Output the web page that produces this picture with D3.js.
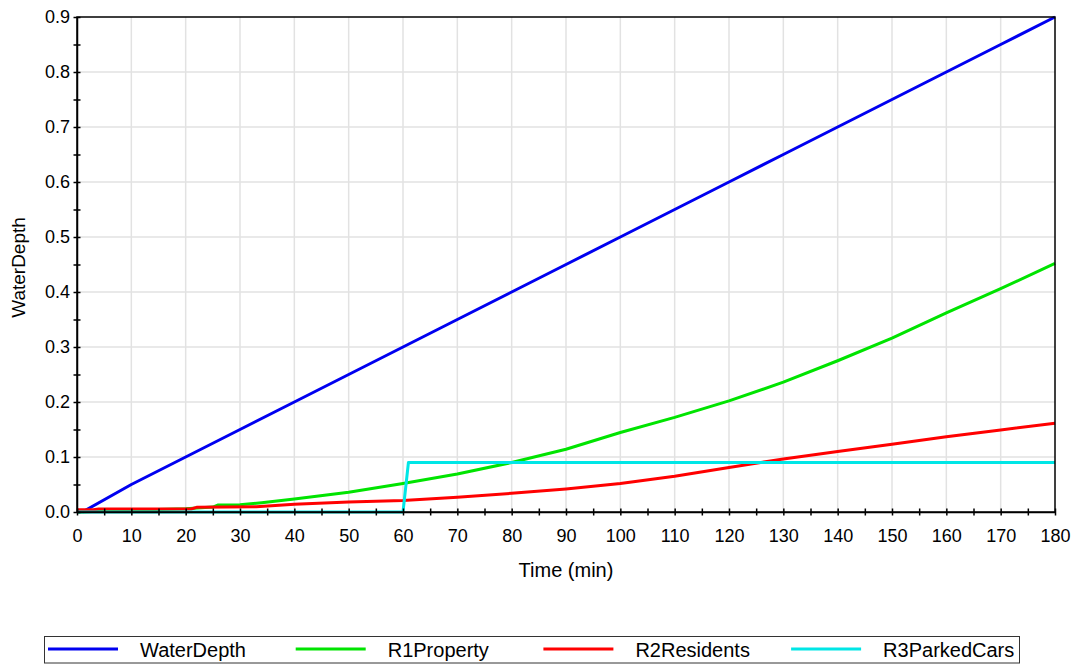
<!DOCTYPE html>
<html>
<head>
<meta charset="utf-8">
<script src="https://cdn.jsdelivr.net/npm/d3@7/dist/d3.min.js"></script>
<style>
  html, body { margin: 0; padding: 0; background: #fff; }
  svg { display: block; font-family: "Liberation Sans", Arial, sans-serif; }
</style>
</head>
<body>
<svg id="chart" width="1080" height="664"></svg>
<script>
// Time axis (minutes) and the depth series sampled along it
const waterDepthTime  = [1, 10, 20, 30, 40, 50, 60, 70, 80, 90, 100, 110, 120, 130, 140, 150, 160, 170, 180];
const waterDepthValue = [0, 0.05, 0.1, 0.15, 0.2, 0.25, 0.3, 0.35, 0.4, 0.45, 0.5, 0.55, 0.6, 0.65, 0.7, 0.75, 0.8, 0.85, 0.9];

const r1PropertyTime  = [0, 10, 20, 25, 26, 30, 34, 40, 50, 60, 70, 80, 90, 100, 110, 120, 130, 140, 150, 160, 170, 180];
const r1PropertyValue = [0, 0.003, 0.006, 0.009, 0.0128, 0.013, 0.017, 0.0237, 0.036, 0.052, 0.069, 0.09, 0.114, 0.1445, 0.172, 0.202, 0.236, 0.275, 0.316, 0.362, 0.406, 0.452];

const r2ResidentsTime  = [0, 3, 4, 21, 22, 33, 40, 50, 60, 70, 80, 90, 100, 110, 120, 130, 140, 150, 160, 170, 180];
const r2ResidentsValue = [0.004, 0.004, 0.0055, 0.0055, 0.0085, 0.0097, 0.014, 0.018, 0.021, 0.027, 0.034, 0.042, 0.052, 0.065, 0.081, 0.0965, 0.11, 0.123, 0.137, 0.149, 0.1615];

const r3ParkedCarsTime  = [0, 60, 61, 180];
const r3ParkedCarsValue = [0, 0, 0.09, 0.09];

const seriesNames  = ["WaterDepth", "R1Property", "R2Residents", "R3ParkedCars"];
const seriesColors = ["#0000f0", "#00e400", "#ff0000", "#00e6e6"];

const xTicks = d3.range(0, 181, 5);
const yTicks = d3.range(0, 0.9001, 0.05).map(v => +v.toFixed(2));

const series = [
  { name: seriesNames[0], t: waterDepthTime,   v: waterDepthValue },
  { name: seriesNames[1], t: r1PropertyTime,   v: r1PropertyValue },
  { name: seriesNames[2], t: r2ResidentsTime,  v: r2ResidentsValue },
  { name: seriesNames[3], t: r3ParkedCarsTime, v: r3ParkedCarsValue }
];

const svg = d3.select("#chart");
const plot = { left: 77, right: 1055, top: 17, bottom: 512 };

const x = d3.scaleLinear().domain([0, 180]).range([plot.left, plot.right]);
const y = d3.scaleLinear().domain([0, 0.9]).range([plot.bottom, plot.top]);

// grid
const grid = svg.append("g").attr("stroke", "#e2e2e2").attr("stroke-width", 1.5);
grid.selectAll("line.gx").data(xTicks.filter(d => d % 10 === 0 && d > 0 && d < 180))
  .join("line").attr("x1", d => x(d)).attr("x2", d => x(d))
  .attr("y1", plot.top).attr("y2", plot.bottom);
grid.selectAll("line.gy").data(yTicks.filter(d => Math.round(d * 100) % 10 === 0 && d > 0 && d < 0.9))
  .join("line").attr("y1", d => y(d)).attr("y2", d => y(d))
  .attr("x1", plot.left).attr("x2", plot.right);

// series lines
const line = d3.line().x(d => x(d[0])).y(d => y(d[1]));
svg.append("g").selectAll("path").data(series).join("path")
  .attr("d", s => line(s.t.map((t, i) => [t, s.v[i]])))
  .attr("fill", "none")
  .attr("stroke", (s, i) => seriesColors[i])
  .attr("stroke-width", 3)
  .attr("stroke-linejoin", "round");

// frame
svg.append("rect")
  .attr("x", plot.left).attr("y", plot.top)
  .attr("width", plot.right - plot.left).attr("height", plot.bottom - plot.top)
  .attr("fill", "none").attr("stroke", "#000").attr("stroke-width", 1.5);

// axes
const xAxis = d3.axisBottom(x).tickValues(xTicks)
  .tickFormat(d => d % 10 === 0 ? d : "")
  .tickSizeInner(3.5).tickSizeOuter(0).tickPadding(14);
const gx = svg.append("g").attr("transform", `translate(0,${plot.bottom})`).call(xAxis);
gx.selectAll(".tick line").attr("y1", -3.5);

const yAxis = d3.axisLeft(y).tickValues(yTicks)
  .tickFormat(d => Math.round(d * 100) % 10 === 0 ? d3.format(".1f")(d) : "")
  .tickSizeInner(3.5).tickSizeOuter(0).tickPadding(3.5);
const gy = svg.append("g").attr("transform", `translate(${plot.left},0)`).call(yAxis);
gy.selectAll(".tick line").attr("x1", 3.5);

[gx, gy].forEach(g => {
  g.select(".domain").attr("stroke", "#000").attr("stroke-width", 1.5);
  g.selectAll(".tick line").attr("stroke", "#000").attr("stroke-width", 1.5);
  g.selectAll("text").attr("fill", "#000").style("font-size", "18px");
});

// axis titles
svg.append("text")
  .attr("x", (plot.left + plot.right) / 2).attr("y", 577)
  .attr("text-anchor", "middle").style("font-size", "20px")
  .text("Time (min)");
svg.append("text")
  .attr("transform", `translate(25,${(plot.top + plot.bottom) / 2 + 3}) rotate(-90)`)
  .attr("text-anchor", "middle").style("font-size", "19px")
  .text("WaterDepth");

// legend
const legend = svg.append("g");
legend.append("rect")
  .attr("x", 44.5).attr("y", 636.5).attr("width", 975).attr("height", 26.5)
  .attr("fill", "#fff").attr("stroke", "#333").attr("stroke-width", 1);
const items = legend.selectAll("g.item").data(seriesNames).join("g")
  .attr("transform", (d, i) => `translate(${48 + i * 247.7},649)`);
items.append("line")
  .attr("x1", 0).attr("x2", 70).attr("y1", 0).attr("y2", 0)
  .attr("stroke", (d, i) => seriesColors[i]).attr("stroke-width", 3);
items.append("text")
  .attr("x", 92).attr("y", 7.5).style("font-size", "20px")
  .text(d => d);
</script>
</body>
</html>
